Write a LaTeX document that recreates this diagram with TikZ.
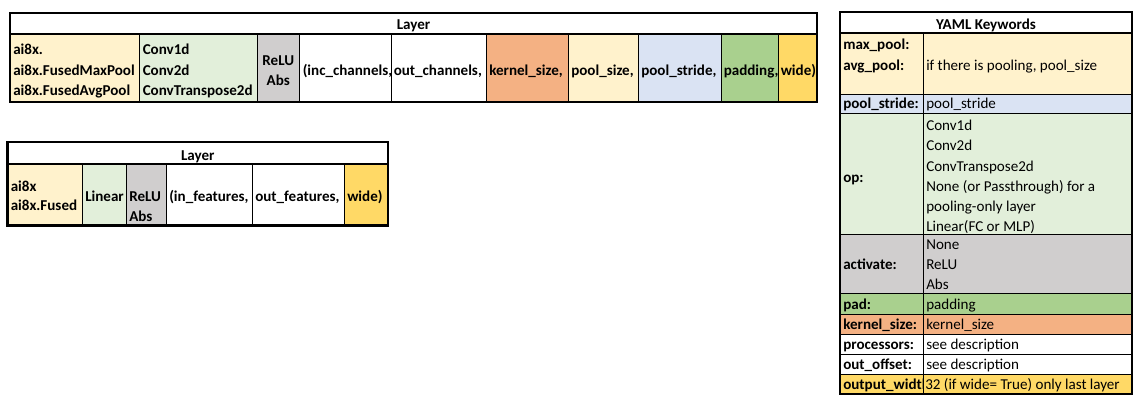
\documentclass[tikz,border=0pt]{standalone}
\usepackage{fontspec}
\setmainfont{Carlito}
\begin{document}
\begin{tikzpicture}[x=0.75pt,y=-0.75pt,
  gridln/.style={line width=0.75pt,black},
  framel/.style={line width=1.6pt,black},
  tb/.style={anchor=base west,inner sep=0pt,font=\fontsize{11.3}{15}\selectfont\bfseries},
  tr/.style={anchor=base west,inner sep=0pt,font=\fontsize{11.3}{15}\selectfont},
  tbc/.style={anchor=base,inner sep=0pt,font=\fontsize{11.3}{15}\selectfont\bfseries}]
\definecolor{cyel}{HTML}{FFF2CC}
\definecolor{cgrn}{HTML}{E2EFDA}
\definecolor{cgry}{HTML}{D0CECE}
\definecolor{cora}{HTML}{F4B183}
\definecolor{cblu}{HTML}{DAE3F3}
\definecolor{cgr2}{HTML}{A9D08E}
\definecolor{cgol}{HTML}{FFD966}
\useasboundingbox (0,0) rectangle (1143,407);
% ---------------- top table ----------------
\fill[cyel] (10,34) rectangle (139.5,102);
\fill[cgrn] (139.5,34) rectangle (257,102);
\fill[cgry] (257,34) rectangle (299.5,102);
\fill[cora] (486,34) rectangle (568,102);
\fill[cyel] (568,34) rectangle (638,102);
\fill[cblu] (638,34) rectangle (721,102);
\fill[cgr2] (721,34) rectangle (778,102);
\fill[cgol] (778,34) rectangle (817,102);
\foreach \x in {139.5,257,299.5,391,486,568,638,721,778}
  \draw[gridln] (\x,34) -- (\x,102);
\draw[framel] (10,34) -- (817,34);
\draw[framel] (10,13) rectangle (817,102);
\node[tbc] (tHead) at (413.5,29) {Layer};
\node[tb] (tA1) at (13,55) {ai8x.};
\node[tb] (tA2) at (13,75) {ai8x.FusedMaxPool};
\node[tb] (tA3) at (13,95) {ai8x.FusedAvgPool};
\node[tb] (tB1) at (142.5,55) {Conv1d};
\node[tb] (tB2) at (142.5,75) {Conv2d};
\node[tb] (tB3) at (142.5,95) {ConvTranspose2d};
\node[tbc] (tC1) at (278.25,65) {ReLU};
\node[tbc] (tC2) at (278.25,85) {Abs};
\node[tb] (tD) at (302.5,75) {(inc\_channels,};
\node[tb] (tE) at (393.5,75) {out\_channels,};
\node[tb] (tF) at (489,75) {kernel\_size,};
\node[tb] (tG) at (571,75) {pool\_size,};
\node[tb] (tH) at (641,75) {pool\_stride,};
\node[tb] (tI) at (723.5,75) {padding,};
\node[tb] (tJ) at (780.5,75) {wide)};
% ---------------- second table ----------------
\fill[cyel] (7.5,164) rectangle (82,225.5);
\fill[cgrn] (82,164) rectangle (126,225.5);
\fill[cgry] (126,164) rectangle (166,225.5);
\fill[cgol] (344,164) rectangle (388,225.5);
\foreach \x in {82,126,166,252,344}
  \draw[gridln] (\x,164) -- (\x,225.5);
\draw[framel] (7.5,164) -- (388,164);
\draw[framel] (7.5,142) rectangle (388,225.5);
\node[tbc] (sHead) at (197.75,160) {Layer};
\node[tb] (sA1) at (10.5,191) {ai8x};
\node[tb] (sA2) at (10.5,210) {ai8x.Fused};
\node[tb] (sB) at (85,201) {Linear};
\node[tb] (sC1) at (129,201) {ReLU};
\node[tb] (sC2) at (129,221) {Abs};
\node[tb] (sD) at (169,201) {(in\_features,};
\node[tb] (sE) at (255,201) {out\_features,};
\node[tb] (sF) at (347,201) {wide)};
% ---------------- YAML keywords table ----------------
\fill[cyel] (840,33) rectangle (1132,94);
\fill[cblu] (840,94) rectangle (1132,113);
\fill[cgrn] (840,113) rectangle (1132,234);
\fill[cgry] (840,234) rectangle (1132,293);
\fill[cgr2] (840,293) rectangle (1132,314);
\fill[cora] (840,314) rectangle (1132,334);
\fill[cgol] (840,374) rectangle (1132,394);
\foreach \y in {94,113,234,293,314,334,354,374}
  \draw[gridln] (840,\y) -- (1132,\y);
\draw[gridln] (923,33) -- (923,394);
\draw[framel] (840,33) -- (1132,33);
\draw[framel] (840,12) rectangle (1132,394);
\node[tbc] (yHead) at (986,29) {YAML Keywords};
\node[tb] (yK1a) at (843,50) {max\_pool:};
\node[tb] (yK1b) at (843,70) {avg\_pool:};
\node[tr] (yV1) at (926,70) {if there is pooling, pool\_size};
\node[tb] (yK2) at (843,108.5) {pool\_stride:};
\node[tr] (yV2) at (926,108.5) {pool\_stride};
\node[tb] (yK3) at (843,182) {op:};
\node[tr] (yV3a) at (926,130) {Conv1d};
\node[tr] (yV3b) at (926,150) {Conv2d};
\node[tr] (yV3c) at (926,171) {ConvTranspose2d};
\node[tr] (yV3d) at (926,191) {None (or Passthrough) for a};
\node[tr] (yV3e) at (926,211) {pooling-only layer};
\node[tr] (yV3f) at (926,231) {Linear(FC or MLP)};
\node[tb] (yK4) at (843,269) {activate:};
\node[tr] (yV4a) at (926,249) {None};
\node[tr] (yV4b) at (926,269) {ReLU};
\node[tr] (yV4c) at (926,289) {Abs};
\node[tb] (yK5) at (843,309) {pad:};
\node[tr] (yV5) at (926,309) {padding};
\node[tb] (yK6) at (843,329) {kernel\_size:};
\node[tr] (yV6) at (926,329) {kernel\_size};
\node[tb] (yK7) at (843,349) {processors:};
\node[tr] (yV7) at (926,349) {see description};
\node[tb] (yK8) at (843,369) {out\_offset:};
\node[tr] (yV8) at (926,369) {see description};
\begin{scope}
\clip (841,375) rectangle (922.4,393);
\node[tb] (yK9) at (843,389) {output\_width:};
\end{scope}
\node[tr] (yV9) at (925,389) {32 (if wide= True) only last layer};
\end{tikzpicture}
\end{document}
